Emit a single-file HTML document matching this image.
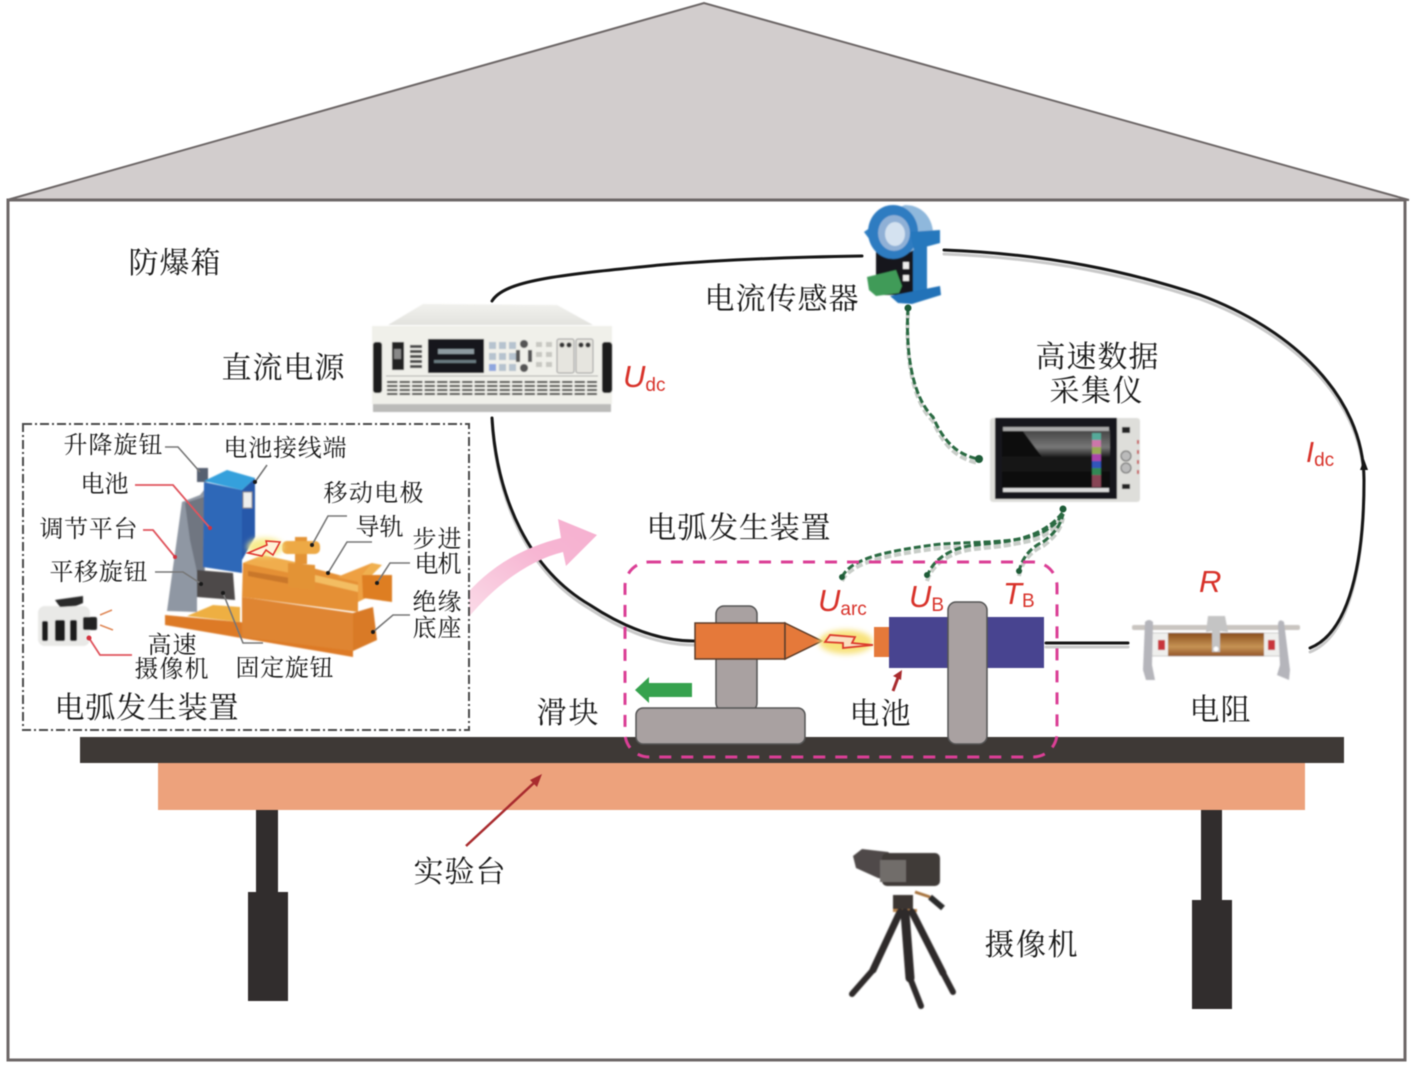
<!DOCTYPE html>
<html lang="zh"><head><meta charset="utf-8"><title>实验装置示意图</title>
<style>
html,body{margin:0;padding:0;background:#fff}
svg{display:block;filter:blur(.45px)}
.cn{font-family:"Liberation Serif","Noto Serif CJK SC",serif;fill:#1a1a1a}
.l{font-size:30px}.s{font-size:24px}
.v{font-family:"Liberation Sans",sans-serif;fill:#d8322a;font-style:italic;font-size:31px}
.v tspan{font-style:normal;font-size:19px}
</style></head><body>
<svg width="1417" height="1074" viewBox="0 0 1417 1074" xmlns="http://www.w3.org/2000/svg">
<defs>
<filter id="b" x="-5%" y="-5%" width="110%" height="110%"><feGaussianBlur stdDeviation="0.5"/></filter>
<filter id="b2" x="-30%" y="-30%" width="160%" height="160%"><feGaussianBlur stdDeviation="3"/></filter>
<linearGradient id="screen" x1="0" y1="0" x2="0" y2="1"><stop offset="0" stop-color="#444"/><stop offset=".3" stop-color="#777"/><stop offset=".47" stop-color="#1a1a1a"/><stop offset="1" stop-color="#080808"/></linearGradient>
<linearGradient id="res" x1="0" y1="0" x2="0" y2="1"><stop offset="0" stop-color="#8a4f1c"/><stop offset=".6" stop-color="#c69355"/><stop offset="1" stop-color="#94562a"/></linearGradient>
<linearGradient id="top" x1="0" y1="0" x2="0" y2="1"><stop offset="0" stop-color="#f1f1ed"/><stop offset="1" stop-color="#e2e2de"/></linearGradient>
<linearGradient id="pink" x1="0" y1="1" x2="1" y2="0"><stop offset="0" stop-color="#fbdde9"/><stop offset=".6" stop-color="#f7b6d3"/><stop offset="1" stop-color="#f6b0d0"/></linearGradient>
</defs>

<!-- house -->
<polygon points="7,200 704,3 1409,200" fill="#d2cdcd" stroke="#6d6767" stroke-width="2"/>
<rect x="8" y="200" width="1397" height="860" fill="#fff" stroke="#6d6767" stroke-width="3"/>

<!-- table -->
<rect x="158" y="762" width="1147" height="48" fill="#eda27c"/>
<rect x="80" y="737" width="1264" height="26" fill="#3e3936"/>
<rect x="256" y="810" width="22" height="83" fill="#312d2d"/>
<rect x="248" y="892" width="40" height="109" fill="#312d2d"/>
<rect x="1201" y="810" width="21" height="91" fill="#312d2d"/>
<rect x="1192" y="900" width="40" height="109" fill="#312d2d"/>

<!-- wires -->
<g fill="none" stroke-linecap="round">
<g stroke="#bdbdbd" stroke-width="3" opacity=".8" transform="translate(0,4)">
<path d="M944,250 C1050,254 1130,272 1200,295 C1290,328 1364,395 1364,480 C1364,560 1350,632 1310,648"/>
<path d="M492,418 C497,500 530,570 590,605 C625,628 660,641 694,641"/>
<path d="M1046,643 H1128"/>
</g>
<g stroke="#161616" stroke-width="3">
<path d="M492,301 C505,280 560,275 660,265 C730,259 800,257 862,256"/>
<path d="M944,250 C1050,254 1130,272 1200,295 C1290,328 1364,395 1364,480 C1364,560 1350,632 1310,648"/>
<path d="M492,418 C497,500 530,570 590,605 C625,628 660,641 694,641"/>
<path d="M1046,643 H1128"/>
</g>
</g>
<polygon points="1364,459 1360,470 1368,470" fill="#161616"/>

<!-- dashed sensor lines -->
<g fill="none">
<g stroke="#c8cdc8" stroke-width="4" stroke-dasharray="7 3" transform="translate(0,4)">
<path d="M908,308 C905,360 915,400 933,417 C945,445 960,455 978,459"/>
<path d="M842,577 C850,560 880,552 933,545 C960,541 1020,545 1043,532 C1055,525 1062,518 1063,510"/>
<path d="M927,577 C932,560 950,548 975,545 C1000,542 1040,542 1063,512"/>
<path d="M1019,572 C1022,555 1035,545 1043,542 C1052,535 1060,528 1063,514"/>
</g>
<g stroke="#2b6b43" stroke-width="3" stroke-dasharray="7 3">
<path d="M908,308 C905,360 915,400 933,417 C945,445 960,455 978,459"/>
<path d="M842,577 C850,560 880,552 933,545 C960,541 1020,545 1043,532 C1055,525 1062,518 1063,510"/>
<path d="M927,577 C932,560 950,548 975,545 C1000,542 1040,542 1063,512"/>
<path d="M1019,572 C1022,555 1035,545 1043,542 C1052,535 1060,528 1063,514"/>
</g>
</g>
<g fill="#1e5c38">
<circle cx="908" cy="308" r="3.5"/><circle cx="979" cy="459" r="4"/><circle cx="1063" cy="509" r="3.5"/>
<circle cx="842" cy="577" r="3"/><circle cx="927" cy="575" r="3"/><circle cx="1019" cy="571" r="3"/>
</g>

<!-- power supply -->
<g filter="url(#b)">
<rect x="373" y="403" width="238" height="9" fill="#8e8e8a" opacity=".6"/>
<polygon points="388,325 423,304 557,305 593,325" fill="url(#top)"/>
<rect x="372" y="326" width="240" height="78" fill="#f0f0ea"/>
<rect x="373" y="342" width="9" height="51" rx="3" fill="#1d1d1d"/><rect x="602" y="342" width="10" height="51" rx="3" fill="#1d1d1d"/>
<rect x="392" y="342" width="12" height="28" fill="#222"/><rect x="394" y="349" width="7" height="10" fill="#888"/>
<g fill="#444"><rect x="410" y="345" width="12" height="3"/><rect x="410" y="350" width="12" height="3"/><rect x="410" y="355" width="12" height="3"/><rect x="410" y="360" width="12" height="3"/><rect x="410" y="365" width="12" height="3"/></g>
<rect x="428" y="339" width="56" height="34" fill="#16181d"/><rect x="438" y="349" width="36" height="5" fill="#8d9aa0"/><rect x="434" y="360" width="42" height="3" fill="#6a7a80"/>
<g fill="#b6c3cf"><rect x="489" y="342" width="7" height="7"/><rect x="499" y="342" width="7" height="7"/><rect x="509" y="342" width="7" height="7"/><rect x="489" y="353" width="7" height="7"/><rect x="499" y="353" width="7" height="7"/><rect x="509" y="353" width="7" height="7"/><rect x="489" y="364" width="7" height="7" fill="#8ea6de"/><rect x="499" y="364" width="7" height="7"/><rect x="509" y="364" width="7" height="7"/></g>
<circle cx="524" cy="344" r="4" fill="#555"/><circle cx="524" cy="368" r="4" fill="#555"/><rect x="516" y="350" width="4" height="12" fill="#555"/><rect x="528" y="350" width="4" height="12" fill="#555"/>
<g fill="#c8c8c2"><rect x="536" y="342" width="6" height="5"/><rect x="546" y="342" width="6" height="5"/><rect x="536" y="352" width="6" height="5"/><rect x="546" y="352" width="6" height="5"/><rect x="536" y="362" width="6" height="5"/><rect x="546" y="362" width="6" height="5"/></g>
<rect x="557" y="339" width="17" height="34" rx="2" fill="#e6e5df" stroke="#999"/><rect x="576" y="339" width="17" height="34" rx="2" fill="#e6e5df" stroke="#999"/>
<circle cx="562" cy="345" r="2.5" fill="#333"/><circle cx="569" cy="345" r="2.5" fill="#333"/><circle cx="581" cy="345" r="2.5" fill="#333"/><circle cx="588" cy="345" r="2.5" fill="#333"/>
<line x1="386" y1="376" x2="598" y2="376" stroke="#aaa"/>
<g stroke="#3a3a3a" stroke-width="2" stroke-dasharray="10.5 2"><line x1="387" y1="382" x2="597" y2="382"/><line x1="387" y1="386" x2="597" y2="386"/><line x1="387" y1="390" x2="597" y2="390"/><line x1="387" y1="394" x2="597" y2="394"/></g>
</g>

<!-- current sensor -->
<g filter="url(#b)">
<polygon points="864,232 878,222 880,244 870,240" fill="#3180c4"/>
<rect x="876" y="245" width="38" height="50" fill="#17191c"/>
<polygon points="913,247 927,242 927,290 913,294" fill="#2678bd"/>
<path d="M905,205 C925,205 935,222 933,240 L910,252 L892,210 Z" fill="#8fb8dc"/>
<ellipse cx="893" cy="232" rx="25" ry="27" fill="#2e7cc1"/>
<ellipse cx="894" cy="233" rx="16" ry="18" fill="#8fb0d6"/>
<ellipse cx="895" cy="234" rx="10" ry="12" fill="#d4e2f0"/>
<polygon points="910,232 940,230 940,243 914,250" fill="#2678bd"/>
<rect x="903" y="262" width="6" height="7" fill="#eee"/><rect x="903" y="275" width="6" height="6" fill="#eee"/>
<polygon points="867,277 896,270 902,286 899,293 876,296 869,290" fill="#3f9b58"/>
<polygon points="890,296 940,286 941,295 912,304 898,303" fill="#2272b8"/>
</g>

<!-- data logger -->
<g filter="url(#b)">
<rect x="990" y="418" width="150" height="84" rx="3" fill="#dededa"/>
<rect x="995" y="418" width="122" height="81" fill="#15171a"/>
<rect x="1002" y="430" width="108" height="58" fill="url(#screen)"/>
<polygon points="1002,430 1022,430 1042,457 1002,457" fill="#0d0d0d"/>
<rect x="1003" y="427" width="106" height="4" fill="#aaa"/>
<rect x="1003" y="488" width="106" height="4" fill="#ddd"/>
<g><rect x="1092" y="433" width="9" height="7" fill="#5a9"/><rect x="1092" y="440" width="9" height="7" fill="#c7a"/><rect x="1092" y="447" width="9" height="7" fill="#9a5"/><rect x="1092" y="454" width="9" height="7" fill="#a4a"/><rect x="1092" y="461" width="9" height="7" fill="#35b"/><rect x="1092" y="468" width="9" height="7" fill="#385"/><rect x="1092" y="475" width="9" height="12" fill="#845"/></g>
<rect x="1122" y="427" width="8" height="6" fill="#222"/><circle cx="1126" cy="456" r="5" fill="#bbb" stroke="#666"/><circle cx="1126" cy="468" r="5" fill="#bbb" stroke="#666"/><rect x="1122" y="484" width="8" height="5" fill="#222"/>
<g fill="#c65a5a"><rect x="1137" y="440" width="2" height="4"/><rect x="1137" y="450" width="2" height="4"/><rect x="1137" y="460" width="2" height="4"/><rect x="1137" y="470" width="2" height="4"/></g>
</g>

<!-- arc device (main) -->
<rect x="716" y="606" width="41" height="105" rx="8" fill="#a9a1a1" stroke="#555" stroke-width="1.5"/>
<rect x="636" y="708" width="169" height="36" rx="7" fill="#a9a1a1" stroke="#555" stroke-width="1.5"/>
<rect x="695" y="623" width="90" height="36" fill="#e5793a" stroke="#5e3e2a" stroke-width="1.5"/>
<polygon points="785,623 822,641 785,659" fill="#e5793a" stroke="#5e3e2a" stroke-width="1.5"/>
<polygon points="692,683 649,683 649,677 635,690 649,703 649,697 692,697" fill="#36a24e"/>
<ellipse cx="846" cy="642" rx="27" ry="12" fill="#f8e27a" filter="url(#b2)"/>
<polygon points="825,642 830,635 855,637 852,643 873,645 843,648 843,643" fill="#fbe0c0" stroke="#dc3a2c" stroke-width="1.8"/>
<rect x="874" y="627" width="16" height="30" fill="#e5793a"/>
<rect x="889" y="617" width="155" height="51" fill="#484490"/>
<rect x="948" y="602" width="39" height="142" rx="8" fill="#a9a1a1" stroke="#555" stroke-width="1.5"/>
<path d="M893,691 L899,675" stroke="#a92b2e" stroke-width="3"/><polygon points="902,670 893,676 901,680" fill="#a92b2e"/>
<rect x="625" y="562" width="432" height="195" rx="24" fill="none" stroke="#db3f96" stroke-width="3" stroke-dasharray="12 10"/>

<!-- pink arrow -->
<path d="M462,600 C485,570 520,548 561,538 L558,519 L597,535 L566,566 L563,552 C530,560 495,585 468,618 Z" fill="url(#pink)"/>

<!-- experiment table arrow -->
<line x1="466" y1="846" x2="536" y2="781" stroke="#a92b2e" stroke-width="2.5"/>
<polygon points="542,774 530,780 537,787" fill="#a92b2e"/>

<!-- resistor -->
<g filter="url(#b)">
<rect x="1132" y="625" width="168" height="5" rx="2" fill="#c9c5c0"/>
<rect x="1150" y="633" width="133" height="23" rx="3" fill="#efefed" stroke="#ccc"/>
<rect x="1168" y="633" width="96" height="23" fill="url(#res)"/>
<path d="M1145,622 Q1149,618 1153,622 L1152,665 L1155,680 L1146,680 L1143,670 Z" fill="#b5b5bb"/>
<path d="M1284,622 Q1279,618 1278,624 L1280,665 L1277,675 L1289,680 L1290,670 Z" fill="#b5b5bb"/>
<rect x="1158" y="640" width="7" height="10" fill="#c8363b"/><rect x="1268" y="640" width="7" height="10" fill="#c8363b"/>
<path d="M1206,632 L1208,616 L1225,616 L1228,632 L1220,631 L1220,652 L1212,652 L1212,631 Z" fill="#c4c4c4"/>
<circle cx="1216" cy="649" r="2.5" fill="#fff"/>
</g>

<!-- tripod camera -->
<g filter="url(#b)">
<path d="M853,856 L862,849 L888,852 L902,862 L895,882 L878,878 L856,868 Z" fill="#4f4a48"/>
<rect x="882" y="853" width="58" height="33" rx="5" fill="#3f3b39"/>
<rect x="880" y="860" width="26" height="22" fill="#716d6b"/>
<rect x="893" y="895" width="20" height="15" fill="#3a3532"/>
<path d="M915,892 L930,897" stroke="#a87440" stroke-width="3"/><path d="M930,897 L943,908" stroke="#2a2a2a" stroke-width="6"/>
<rect x="893" y="909" width="24" height="3" fill="#b98650"/>
<g stroke="#2f2b29" fill="none" stroke-linecap="round">
<path d="M900,912 L873,970" stroke-width="7"/><path d="M873,970 L852,994" stroke-width="6"/>
<path d="M912,912 L943,973" stroke-width="7"/><path d="M943,973 L953,992" stroke-width="6"/>
<path d="M905,913 L910,978" stroke-width="9"/><path d="M910,978 L921,1006" stroke-width="6"/>
</g>
</g>

<!-- left 3D panel -->
<rect x="23" y="424" width="446" height="306" fill="#fff" stroke="#4a4a4a" stroke-width="2" stroke-dasharray="9 3 2 3"/>
<g filter="url(#b)">
<polygon points="165,615 240,622 353,647 353,657 165,625" fill="#dd7a28"/>
<polygon points="187,616 213,605 240,607 240,622" fill="#eeaf42"/>
<polygon points="167,611 182,502 200,495 204,490 205,570 197,598 197,612" fill="#8f97a3"/>
<polygon points="185,503 204,497 204,572 197,572 190,540" fill="#6f7681"/>
<rect x="197" y="468" width="11" height="14" fill="#566070"/>
<polygon points="204,482 242,490 242,573 203,567" fill="#2e68b8"/>
<polygon points="242,490 255,478 255,537 242,560" fill="#2558aa"/>
<polygon points="204,481 227,470 255,478 242,490" fill="#35a0dc"/>
<rect x="243" y="492" width="9" height="16" fill="#eee" stroke="#888"/>
<polygon points="197,570 233,573 235,600 197,597" fill="#4d4a48"/>
<polygon points="242,597 353,613 353,651 242,637" fill="#df8530"/>
<polygon points="353,613 373,607 377,640 353,651" fill="#d97a26"/>
<polygon points="243,563 263,555 358,580 358,612 242,597" fill="#e59035"/>
<polygon points="243,563 263,555 300,563 290,573" fill="#f0ad4e"/>
<polygon points="248,571 290,578 290,584 248,576" fill="#c9772a"/>
<polygon points="315,575 358,585 358,592 315,582" fill="#f3bd62"/>
<polygon points="337,577 372,563 372,595 358,602 358,582" fill="#eea042"/>
<polygon points="288,563 315,565 315,590 288,587" fill="#e39335"/>
<rect x="295" y="537" width="12" height="27" fill="#e39335"/>
<rect x="282" y="541" width="38" height="13" rx="5" fill="#eda945"/>
<polygon points="362,575 392,575 392,602 363,598" fill="#de7e24"/>
<polygon points="362,575 372,563 382,565 372,575" fill="#f0b050"/>
</g>
<ellipse cx="265" cy="547" rx="18" ry="9" fill="#f7ec8e" filter="url(#b2)"/>
<polygon points="248,553 267,545 266,541 280,542 273,555 266,550 262,556" fill="#fff2d8" stroke="#e0302a" stroke-width="1.5"/>
<!-- high speed cam -->
<g filter="url(#b)">
<rect x="38" y="606" width="52" height="40" rx="7" fill="#e9e9e7"/>
<polygon points="55,600 83,596 83,603 76,606 60,607" fill="#2a2a2a"/>
<rect x="42" y="621" width="6" height="20" rx="2" fill="#1e1e1e"/><rect x="55" y="620" width="10" height="21" rx="2" fill="#1e1e1e"/><rect x="70" y="620" width="7" height="21" rx="2" fill="#1e1e1e"/>
<rect x="83" y="617" width="14" height="13" rx="2" fill="#222"/>
</g>
<g stroke="#e08a5a" stroke-width="1.5"><line x1="100" y1="615" x2="112" y2="610"/><line x1="100" y1="625" x2="113" y2="630"/></g>
<!-- leaders -->
<g fill="none" stroke="#777" stroke-width="1.6">
<path d="M165,447 L178,447 L200,472"/><path d="M255,482 L267,465"/>
<path d="M155,572 L183,572 L200,583"/><path d="M347,516 L328,516 L312,545"/>
<path d="M372,542 L347,542 L328,573"/><path d="M410,563 L390,563 L377,583"/>
<path d="M410,615 L393,615 L373,632"/><path d="M223,593 L243,643 L263,643"/>
</g>
<g fill="none" stroke="#e0555e" stroke-width="1.8">
<path d="M135,485 L173,485 L210,528"/><path d="M143,530 L153,530 L175,557"/><path d="M132,655 L100,655 L89,638"/>
</g>
<g fill="#1a1a1a"><circle cx="255" cy="482" r="2"/><circle cx="312" cy="545" r="2"/><circle cx="328" cy="573" r="2"/><circle cx="377" cy="583" r="2"/><circle cx="373" cy="632" r="2"/><circle cx="223" cy="593" r="2"/><circle cx="201" cy="584" r="2"/></g>
<g fill="#d3323e"><circle cx="210" cy="528" r="2"/><circle cx="175" cy="557" r="2"/><circle cx="89" cy="638" r="2.5"/></g>

<!-- labels -->
<g class="cn l" transform="translate(.5,0)">
<text x="128" y="273" textLength="92">防爆箱</text>
<text x="221" y="378" textLength="123">直流电源</text>
<text x="704" y="309" textLength="154">电流传感器</text>
<text x="1035" y="367" textLength="123">高速数据</text>
<text x="1049" y="401" textLength="93">采集仪</text>
<text x="646" y="538" textLength="184">电弧发生装置</text>
<text x="536" y="723" textLength="62">滑块</text>
<text x="849" y="724" textLength="61">电池</text>
<text x="1189" y="720" textLength="61">电阻</text>
<text x="413" y="882" textLength="92">实验台</text>
<text x="984" y="955" textLength="93">摄像机</text>
<text x="54" y="718" textLength="184">电弧发生装置</text>
</g>
<g class="cn s" transform="translate(.5,0)">
<text x="63" y="453" textLength="99">升降旋钮</text>
<text x="223" y="456" textLength="123">电池接线端</text>
<text x="80" y="492" textLength="48">电池</text>
<text x="39" y="537" textLength="98">调节平台</text>
<text x="49" y="580" textLength="98">平移旋钮</text>
<text x="323" y="501" textLength="100">移动电极</text>
<text x="355" y="535" textLength="48">导轨</text>
<text x="412" y="547" textLength="49">步进</text>
<text x="414" y="572" textLength="47">电机</text>
<text x="412" y="610" textLength="49">绝缘</text>
<text x="412" y="636" textLength="49">底座</text>
<text x="147" y="653" textLength="49">高速</text>
<text x="134" y="677" textLength="74">摄像机</text>
<text x="235" y="676" textLength="98">固定旋钮</text>
</g>
<text class="v" x="623" y="387">U<tspan dy="4">dc</tspan></text>
<text class="v" x="818" y="611">U<tspan dy="4">arc</tspan></text>
<text class="v" x="909" y="607">U<tspan dy="4">B</tspan></text>
<text class="v" x="1003" y="604">T<tspan dy="3">B</tspan></text>
<text class="v" x="1199" y="592">R</text>
<text class="v" x="1306" y="462" style="font-size:29px">I<tspan dy="4">dc</tspan></text>
</svg>
</body></html>
